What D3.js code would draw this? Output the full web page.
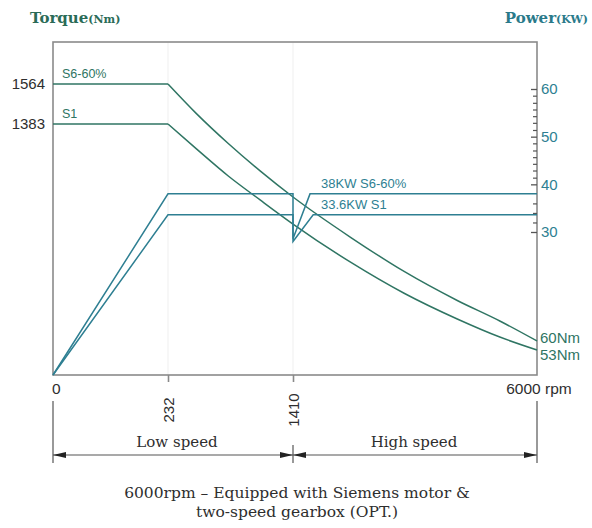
<!DOCTYPE html>
<html><head><meta charset="utf-8">
<script src="https://cdn.jsdelivr.net/npm/d3@7"></script>
<style>body{margin:0;background:#fff}
.sans{font-family:"Liberation Sans",Arial,sans-serif}
.serif{font-family:"DejaVu Serif",serif}
</style>
</head><body><svg id="c" width="592" height="528"></svg>
<script>
// ---- data ----
const speedDomain = [0, 232, 1410, 6000];          // rpm breakpoints (schematic axis)
const speedTickLabels = ["232", "1410"];
const torqueMarks = [1564, 1383];
const torqueEnds = [60, 53];
const powerTicks = [30, 40, 50, 60];
const powerMinorTicks = [32, 34, 36, 41.4, 42.9, 44.3, 45.7, 47.1, 48.6, 51.4, 52.9, 54.3, 55.7, 57.1, 58.6];
const torqueS6Flat = [[0, 1564], [232, 1564]];
const torqueS6 = [[232,1564],[500,1430],[800,1264],[1100,1097],[1410,938],[2500,691],[3500,484],[4500,307],[5300,182],[6000,60]];
const torqueS1Flat = [[0, 1383], [232, 1383]];
const torqueS1 = [[232,1383],[500,1231],[800,1066],[1100,920],[1410,773],[2500,539],[3500,351],[4500,194],[5300,84],[6000,53]];
const powerS6 = [[0,0],[232,38],[1410,38],[1410,28.6],[1730,38],[6000,38]];
const powerS1 = [[0,0],[232,33.6],[1410,33.6],[1410,28],[1790,33.6],[6000,33.6]];
const seriesLabels = ["S6-60%", "S1"];
const powerLabels = ["38KW S6-60%", "33.6KW S1"];
const speedRanges = ["Low speed", "High speed"];
const caption = ["6000rpm \u2013 Equipped with Siemens motor &", "two-speed gearbox (OPT.)"];

// ---- layout ----
const L = 53, R = 537, T = 42, B = 375;
const cTorque = "#2f7563", cPower = "#2e7f92", cFrame = "#8a8a8a", cText = "#2e2e2e";

const svg = d3.select("#c");
const x = d3.scaleLinear().domain(speedDomain).range([L, 168, 293, R]);
const yT = d3.scaleLinear().domain([0, 53, 60, 1383, 1564]).range([B, 350, 341, 124, 84]);
const yP = d3.scaleLinear().domain([0, 60]).range([B, 89]);

// faint grid
svg.append("g").selectAll("line").data([232, 1410]).join("line")
  .attr("x1", d => x(d)).attr("x2", d => x(d)).attr("y1", T).attr("y2", B)
  .attr("stroke", "#efefef").attr("stroke-width", 1);

// frame
svg.append("rect").attr("x", L).attr("y", T).attr("width", R - L).attr("height", B - T)
  .attr("fill", "none").attr("stroke", cFrame).attr("stroke-width", 1.6);

// bottom axis ticks with rotated labels
const xAxis = d3.axisBottom(x).tickValues([232, 1410]).tickSize(7).tickPadding(0).tickFormat((d, i) => speedTickLabels[i]);
const gx = svg.append("g").attr("transform", `translate(0,${B})`).call(xAxis)
  .attr("font-family", null).attr("font-size", null);
gx.select(".domain").remove();
gx.selectAll(".tick line").attr("stroke", cFrame).attr("stroke-width", 1.6);
gx.selectAll(".tick text").attr("transform", "translate(0,35) rotate(-90)").attr("text-anchor", "middle")
  .attr("y", 0).attr("dy", "0.35em").attr("fill", cText).attr("class", "sans").attr("font-size", 15);

svg.append("text").attr("class", "sans").attr("font-size", 15.5).attr("x", x(0) - 1).attr("y", 394).text("0").attr("fill", cText);
svg.append("text").attr("class", "sans").attr("font-size", 15.5).attr("x", x(6000) + 2).attr("y", 394).attr("text-anchor", "middle").text("6000 rpm")
  .attr("fill", cText);

// right power axis
const pAxis = d3.axisRight(yP).tickValues(powerTicks).tickSizeInner(-6).tickSizeOuter(0).tickPadding(4);
const gp = svg.append("g").attr("transform", `translate(${R},0)`).call(pAxis).attr("font-family", null).attr("font-size", null);
gp.select(".domain").remove();
gp.selectAll(".tick line").attr("stroke", "#555").attr("stroke-width", 1.3);
gp.selectAll(".tick text").attr("fill", cPower).attr("class", "sans").attr("font-size", 15);
const pMinor = d3.axisRight(yP).tickValues(powerMinorTicks).tickSizeInner(-4).tickSizeOuter(0).tickFormat("");
const gpm = svg.append("g").attr("transform", `translate(${R},0)`).call(pMinor);
gpm.select(".domain").remove();
gpm.selectAll(".tick line").attr("stroke", "#555").attr("stroke-width", 1.2);

// torque labels left
svg.append("g").selectAll("text").data(torqueMarks).join("text")
  .attr("class", "sans").attr("font-size", 15)
  .attr("x", 45).attr("y", d => yT(d)).attr("dy", "0.35em").attr("text-anchor", "end")
  .text(d => d).attr("fill", cText);

// lines
const lineT = d3.line().x(d => x(d[0])).y(d => yT(d[1]));
const curveT = d3.line().x(d => x(d[0])).y(d => yT(d[1])).curve(d3.curveMonotoneX);
const lineP = d3.line().x(d => x(d[0])).y(d => yP(d[1]));
[torqueS6Flat, torqueS1Flat].forEach(s => svg.append("path").attr("d", lineT(s)).attr("fill", "none").attr("stroke", cTorque).attr("stroke-width", 1.5));
[torqueS6, torqueS1].forEach(s => svg.append("path").attr("d", curveT(s)).attr("fill", "none").attr("stroke", cTorque).attr("stroke-width", 1.5));
[powerS6, powerS1].forEach(s => svg.append("path").attr("d", lineP(s)).attr("fill", "none").attr("stroke", cPower).attr("stroke-width", 1.5));

// series labels
svg.append("text").attr("class", "sans").attr("font-size", 12.5).attr("x", 62).attr("y", yT(1564) - 6).text(seriesLabels[0]).attr("fill", cTorque);
svg.append("text").attr("class", "sans").attr("font-size", 12.5).attr("x", 62).attr("y", yT(1383) - 6).text(seriesLabels[1]).attr("fill", cTorque);
svg.append("text").attr("class", "sans").attr("font-size", 13).attr("x", 321).attr("y", yP(38) - 6).text(powerLabels[0]).attr("fill", cPower);
svg.append("text").attr("class", "sans").attr("font-size", 13).attr("x", 321).attr("y", yP(33.6) - 6).text(powerLabels[1]).attr("fill", cPower);
svg.append("g").selectAll("text").data(torqueEnds).join("text")
  .attr("class", "sans").attr("font-size", 15)
  .attr("x", R + 3).attr("y", (d, i) => yT(d) + (i === 0 ? -3 : 5)).attr("dy", "0.35em")
  .text(d => d + "Nm").attr("fill", cTorque);

// titles
const t1 = svg.append("text").attr("class", "serif").attr("font-size", 15).attr("font-weight", "bold")
  .attr("x", 30).attr("y", 23).attr("fill", "#2a6b57");
t1.append("tspan").text("Torque");
t1.append("tspan").text("(Nm)").attr("font-size", 11);
const t2 = svg.append("text").attr("class", "serif").attr("font-size", 15).attr("font-weight", "bold")
  .attr("x", 588).attr("y", 23).attr("text-anchor", "end").attr("fill", "#2a7a8a");
t2.append("tspan").text("Power");
t2.append("tspan").text("(KW)").attr("font-size", 11);

// dimension lines
const dim = svg.append("g").attr("stroke", "#777").attr("stroke-width", 1.5);
dim.append("line").attr("x1", x(0)).attr("x2", x(0)).attr("y1", 401).attr("y2", 463);
dim.append("line").attr("x1", x(1410)).attr("x2", x(1410)).attr("y1", 445).attr("y2", 463);
dim.append("line").attr("x1", x(6000)).attr("x2", x(6000)).attr("y1", 401).attr("y2", 463);
dim.append("line").attr("x1", x(0)).attr("x2", x(6000)).attr("y1", 455).attr("y2", 455).attr("stroke", "#555").attr("stroke-width", 1.2);
const arrows = [[x(0), 1], [x(1410), -1], [x(1410), 1], [x(6000), -1]];
svg.append("g").selectAll("path").data(arrows).join("path")
  .attr("d", d => `M${d[0]},455 l${d[1] * 13},-3 l0,6 Z`).attr("fill", "#222");

svg.append("text").attr("class", "serif").attr("font-size", 15).attr("x", (x(0) + x(1410)) / 2 + 4).attr("y", 447).attr("text-anchor", "middle")
  .text(speedRanges[0]).attr("fill", cText);
svg.append("text").attr("class", "serif").attr("font-size", 15).attr("x", (x(1410) + x(6000)) / 2 - 1).attr("y", 447).attr("text-anchor", "middle")
  .text(speedRanges[1]).attr("fill", cText);

// caption
svg.append("g").selectAll("text").data(caption).join("text")
  .attr("class", "serif").attr("font-size", 15.5)
  .attr("x", 297).attr("y", (d, i) => 498 + i * 19).attr("text-anchor", "middle")
  .text(d => d).attr("fill", cText);
</script></body></html>
